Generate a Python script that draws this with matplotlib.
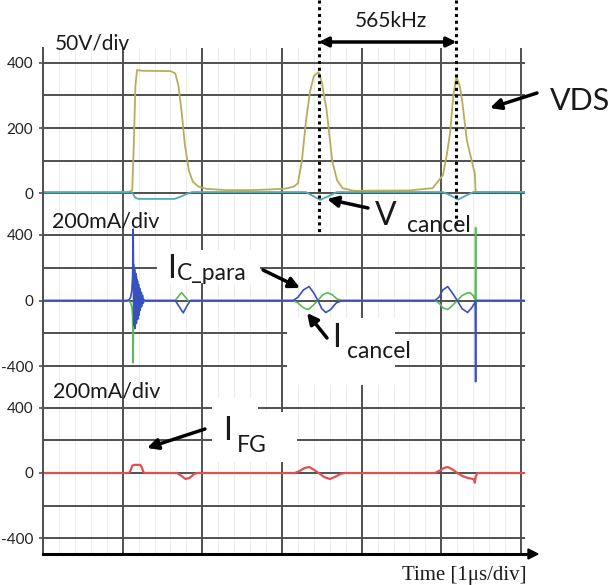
import numpy as np
import matplotlib
matplotlib.use("Agg")
import matplotlib.pyplot as plt
from matplotlib.patches import Rectangle
from matplotlib.lines import Line2D
from matplotlib.transforms import blended_transform_factory

# --- data (time in us, 1 us/div) ---
vds_t = [0, 1.05, 1.10, 1.12, 1.14, 1.16, 1.18, 1.25, 1.60, 1.66, 1.70, 1.74, 1.78,
         1.83, 1.88, 1.95, 2.05, 2.30, 2.60, 2.85, 3.05, 3.15, 3.20, 3.25, 3.30,
         3.35, 3.40, 3.46, 3.50, 3.56, 3.63, 3.69, 3.76, 3.90, 4.60, 4.89, 5.02,
         5.07, 5.11, 5.15, 5.19, 5.23, 5.26, 5.32, 5.38, 5.42, 5.43, 6.05]
vds_v = [3, 3, 5, 10, 150, 330, 378, 376, 375, 368, 330, 250, 150,
         70, 35, 20, 13, 9, 9, 11, 14, 20, 30, 100, 220,
         310, 360, 372, 340, 255, 100, 40, 15, 7, 8, 15, 55,
         120, 185, 300, 357, 330, 286, 163, 100, 60, 3, 3]

vcancel_t = [0, 1.12, 1.16, 1.20, 1.65, 1.72, 1.80, 1.87, 3.30, 3.38, 3.48,
             3.58, 3.69, 5.02, 5.12, 5.21, 5.30, 5.40, 6.05]
vcancel_v = [2, 2, -15, -18, -18, -12, -3, 3, 3, -8, -21, -10, 3, 3, -8, -20, -9, 3, 3]

icpara_t = [0, 1.05, 1.08, 1.10, 1.115, 1.125, 1.132, 1.140, 1.148, 1.156, 1.164,
            1.172, 1.180, 1.188, 1.196, 1.204, 1.212, 1.220, 1.228, 1.236, 1.244,
            1.252, 1.260, 1.270, 1.66, 1.70, 1.76, 1.81, 1.85, 3.14, 3.20, 3.27,
            3.34, 3.40, 3.45, 3.50, 3.55, 3.61, 3.68, 3.76, 4.92, 4.97, 5.02, 5.08,
            5.14, 5.20, 5.26, 5.33, 5.38, 5.425, 5.43, 5.435, 6.05]
icpara_i = [0, 0, 5, 20, 60, 150, 435, -150, 200, -170, 165,
            -140, 130, -115, 100, -90, 75, -60, 50, -38, 28,
            -18, 10, 0, 0, -30, -75, -30, 0, 0, 20, 65,
            85, 45, 0, -50, -73, -55, -15, 0, 0, 20, 65, 85,
            45, 0, -50, -73, -45, -10, -495, 0, 0]

icancel_t = [0, 1.05, 1.08, 1.10, 1.115, 1.125, 1.132, 1.140, 1.148, 1.156, 1.164,
             1.172, 1.180, 1.188, 1.196, 1.204, 1.212, 1.220, 1.228, 1.236, 1.244,
             1.252, 1.260, 1.270, 1.66, 1.70, 1.74, 1.78, 1.83, 1.86, 3.14, 3.20,
             3.27, 3.33, 3.39, 3.45, 3.51, 3.57, 3.63, 3.69, 3.76, 4.92, 4.97, 5.02,
             5.08, 5.14, 5.20, 5.26, 5.32, 5.36, 5.40, 5.425, 5.43, 5.435, 6.05]
icancel_i = [0, 0, -5, -15, -40, -100, -380, 220, -120, 180, -100,
             150, -85, 120, -70, 95, -55, 70, -40, 50, -28,
             32, -15, 0, 0, 25, 48, 25, -5, 0, 0, -15,
             -45, -55, -30, 0, 35, 48, 35, 10, 0, 0, -15, -45,
             -55, -30, 0, 30, 45, 48, 30, 5, 445, 0, 0]

ifg_t = [0, 1.08, 1.10, 1.12, 1.15, 1.22, 1.24, 1.26, 1.28, 1.68, 1.73, 1.79, 1.84,
         1.90, 1.94, 3.16, 3.22, 3.28, 3.34, 3.40, 3.46, 3.53, 3.60, 3.66, 3.74,
         3.79, 4.92, 4.98, 5.04, 5.08, 5.14, 5.20, 5.27, 5.33, 5.38, 5.41, 5.42,
         5.43, 5.45, 6.05]
ifg_i = [0, 0, 15, 45, 50, 50, 35, 5, 0, 0, -15, -37, -30,
         -5, 0, 0, 12, 30, 37, 20, 0, -25, -37, -25, -5,
         0, 0, 15, 32, 37, 22, 0, -20, -30, -35, -40, -60,
         -25, 0, 0]

period_marks = [3.46, 5.19]

W, H = 612, 585
GRID = "#505050"
plt.rcParams["axes.unicode_minus"] = False


def P(x, y):
    return (x / W, 1 - y / H)


def box(top, bottom):
    return [43 / W, 1 - bottom / H, 482 / W, (bottom - top) / H]


def style(ax, major, minor):
    ax.set_xlim(0, 6.05)
    ax.set_xticks(range(7))
    ax.set_xticks(np.arange(0.2, 6.05, 0.2), minor=True)
    ax.set_yticks(major)
    ax.set_yticks(minor, minor=True)
    ax.grid(which="major", axis="x", color=GRID, lw=1.4)
    ax.grid(which="minor", axis="x", color="#eeeeee", lw=0.8)
    ax.grid(which="both", axis="y", color=GRID, lw=1.4)
    ax.set_axisbelow(True)
    ax.tick_params(axis="x", which="both", length=0, labelbottom=False)
    ax.tick_params(axis="y", which="major", length=3, color=GRID, width=1.2,
                   labelsize=11, pad=4, labelcolor="#222222")
    ax.tick_params(axis="y", which="minor", length=0)
    for s in ["top", "right", "bottom"]:
        ax.spines[s].set_visible(False)
    ax.spines["left"].set_color(GRID)
    ax.spines["left"].set_linewidth(1.4)
    for lab in ax.get_yticklabels():
        lab.set_family("Lato")


fig = plt.figure(figsize=(6.12, 5.85), dpi=100)

ax1 = fig.add_axes(box(48, 208))
ax1.set_ylim(-46, 446)
style(ax1, [0, 200, 400], [100, 300])
ax1.plot(vds_t, vds_v, color="#b5ae5c", lw=1.3)
ax1.plot(vcancel_t, vcancel_v, color="#52aab5", lw=1.3)

ax2 = fig.add_axes(box(208, 385))
ax2.set_ylim(-515, 564)
style(ax2, [-400, 0, 400], [-200, 200])
ax2.plot(icancel_t, icancel_i, color="#5cb85c", lw=1.2)
ax2.plot(icpara_t, icpara_i, color="#3a4fc4", lw=1.2)

ax3 = fig.add_axes(box(385, 554))
ax3.set_ylim(-498, 541)
style(ax3, [-400, 0, 400], [-200, 200])
ax3.plot(ifg_t, ifg_i, color="#e0504f", lw=1.6)

# white patches behind the labels
for x0, y0, x1, y1 in [(157, 250, 260, 283), (287, 318, 395, 385),
                       (212, 412, 297, 462), (212, 398, 258, 412)]:
    fig.add_artist(Rectangle(P(x0, y1), (x1 - x0) / W, (y1 - y0) / H,
                             transform=fig.transFigure, fc="white", ec="none", zorder=3))

# time axis with arrow
fig.add_artist(Line2D([43 / W, 528 / W], [1 - 554 / H] * 2, color="black", lw=2.2,
                      transform=fig.transFigure))
fig.add_artist(plt.Polygon([P(528, 549), P(538, 554), P(528, 559)], closed=True,
                           transform=fig.transFigure, fc="black", ec="black"))

# period markers
trans = blended_transform_factory(ax1.transData, fig.transFigure)
for t, yb in zip(period_marks, [232, 226]):
    fig.add_artist(Line2D([t, t], [1.0, 1 - yb / H], transform=trans, color="black",
                          lw=2.2, ls=(0, (1, 1.2)), zorder=4))
ax1.annotate("", xy=(period_marks[1], 1 - 42 / H), xytext=(period_marks[0], 1 - 42 / H),
             xycoords=trans, textcoords=trans, annotation_clip=False,
             arrowprops=dict(arrowstyle="<|-|>", lw=2.5, color="black",
                             mutation_scale=14, shrinkA=0, shrinkB=0))

# pointer arrows
for start, end in [((537, 93), (490, 108)), ((368, 208), (327, 199)),
                   ((263, 270), (300, 288)), ((327, 338), (307, 313)),
                   ((205, 429), (147, 448))]:
    fig.add_artist(matplotlib.patches.FancyArrowPatch(
        P(*start), P(*end), transform=fig.transFigure, arrowstyle="-|>",
        mutation_scale=16, lw=2.5, color="black", shrinkA=0, shrinkB=0, zorder=6))

txt = dict(family="Lato", color="#1a1a1a", va="baseline", zorder=7)
fig.text(*P(55, 50), "50V/div", fontsize=15, **txt)
fig.text(*P(52, 228), "200mA/div", fontsize=15.5, **txt)
fig.text(*P(53, 398), "200mA/div", fontsize=15.5, **txt)
fig.text(*P(391, 27), "565kHz", fontsize=15, ha="center", **txt)
fig.text(*P(550, 110), "VDS", fontsize=22, **txt)
fig.text(*P(375, 225), "V", fontsize=23,
         bbox=dict(fc="white", ec="none", pad=1), **txt)
fig.text(*P(407, 232), "cancel", fontsize=16.5, **txt)
fig.text(*P(167, 278), "I", fontsize=23, **txt)
fig.text(*P(177, 280), "C_para", fontsize=16.5, **txt)
fig.text(*P(332, 347), "I", fontsize=23, **txt)
fig.text(*P(347, 358), "cancel", fontsize=16.5, **txt)
fig.text(*P(223, 440), "I", fontsize=23, **txt)
fig.text(*P(237, 452), "FG", fontsize=16.5, **txt)
fig.text(*P(527, 580), "Time [1\u03bcs/div]", fontsize=15, family="Liberation Serif",
         ha="right", va="baseline", color="#1a1a1a")

fig.savefig("out.png", dpi=100, facecolor="white")
